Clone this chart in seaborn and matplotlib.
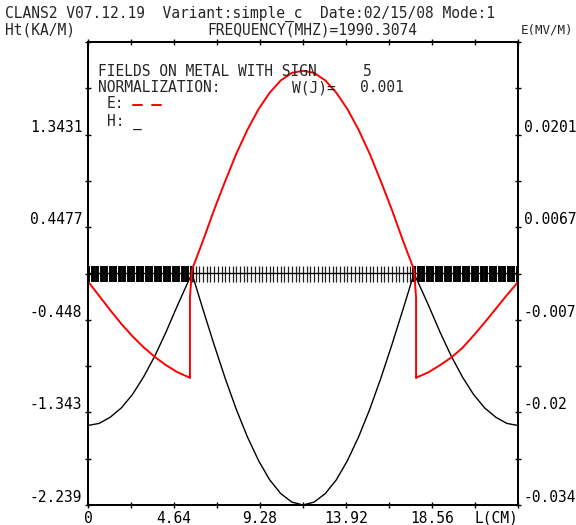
import numpy as np
import pandas as pd
import matplotlib
matplotlib.use("Agg")
import matplotlib.pyplot as plt
from matplotlib.lines import Line2D
import seaborn as sns

# Du lieu doc tu hinh: L(cm), H (KA/M) va E (MV/M)
l_h = [0.0, 0.6, 1.2, 1.8, 2.4, 3.0, 3.6, 4.2, 4.8, 5.2, 5.61,
       6.2, 6.8, 7.4, 8.0, 8.6, 9.2, 9.8, 10.4, 11.0, 11.6,
       12.2, 12.8, 13.4, 14.0, 14.6, 15.2, 15.8, 16.4, 17.0, 17.59,
       18.0, 18.4, 19.0, 19.6, 20.2, 20.8, 21.4, 22.0, 22.6, 23.2]
h_val = [-1.47, -1.45, -1.39, -1.30, -1.17, -1.00, -0.80, -0.57, -0.32, -0.16, 0.0,
         -0.345, -0.687, -1.013, -1.314, -1.580, -1.809, -1.995, -2.129, -2.211, -2.239,
         -2.211, -2.129, -1.995, -1.809, -1.580, -1.314, -1.013, -0.687, -0.345, 0.0,
         -0.16, -0.32, -0.57, -0.80, -1.00, -1.17, -1.30, -1.39, -1.45, -1.47]

l_e = [0.0, 0.6, 1.2, 1.8, 2.4, 3.0, 3.6, 4.2, 4.8, 5.2, 5.48, 5.50, 5.50, 5.61,
       6.2, 6.8, 7.4, 8.0, 8.6, 9.2, 9.8, 10.4, 11.0, 11.6,
       12.2, 12.8, 13.4, 14.0, 14.6, 15.2, 15.8, 16.4, 17.0, 17.59,
       17.70, 17.70, 17.72, 18.0, 18.4, 19.0, 19.6, 20.2, 20.8, 21.4, 22.0, 22.6, 23.2]
e_val = [-0.0014, -0.0035, -0.0056, -0.0076, -0.0094, -0.0110, -0.0124, -0.0136, -0.0146, -0.0151, -0.0154,
         -0.0155, -0.0037, 0.0003,
         0.0045, 0.0090, 0.0132, 0.0172, 0.0207, 0.0237, 0.0261, 0.0279, 0.0290, 0.0293,
         0.0290, 0.0279, 0.0261, 0.0237, 0.0207, 0.0172, 0.0132, 0.0090, 0.0045, 0.0003,
         -0.0037, -0.0155, -0.0154, -0.0151, -0.0146, -0.0136, -0.0125, -0.0111, -0.0093, -0.0074, -0.0054, -0.0034, -0.0015]

# luoi diem tren kim loai
mesh_left = np.linspace(0.0, 5.61, 24)
mesh_mid = np.linspace(5.61, 17.59, 61)
mesh_right = np.linspace(17.59, 23.2, 24)

x_ticks = [0, 2.32, 4.64, 6.96, 9.28, 11.6, 13.92, 16.24, 18.56, 20.88, 23.2]
x_labels = ['0', '', '4.64', '', '9.28', '', '13.92', '', '18.56', '', 'L(CM)']
h_labels = ['-2.239', '', '-1.343', '', '-0.448', '', '0.4477', '', '1.3431', '', '']
e_labels = ['-0.034', '', '-0.02', '', '-0.007', '', '0.0067', '', '0.0201', '', '']

sns.set_theme(style='white')
plt.rcParams['font.family'] = ['DejaVu Sans Mono', 'DejaVu Sans']
fs = 10.5

fig = plt.figure(figsize=(5.76, 5.25), dpi=100)
ax = fig.add_axes([88/576, 1-505/525, 430/576, 463/525])
ax2 = ax.twinx()

df_h = pd.DataFrame({'L': l_h, 'H': h_val})
df_e = pd.DataFrame({'L': l_e, 'E': e_val})

ax.vlines(mesh_left, -0.078, 0.075, color='black', lw=2.8)
ax.vlines(mesh_right, -0.078, 0.075, color='black', lw=2.8)
ax.vlines(mesh_mid, -0.078, 0.075, color='#222222', lw=0.9)
ax.axhline(0, color='black', lw=1.0)

sns.lineplot(data=df_h, x='L', y='H', ax=ax, color='black', lw=1.0,
             sort=False, estimator=None)
sns.lineplot(data=df_e, x='L', y='E', ax=ax2, color='#ff0000', lw=1.4,
             sort=False, estimator=None)

ax.set_xlim(0, 23.2)
ax.set_ylim(-2.239, 2.2385)
ax2.set_ylim(-0.034, 0.0335)

ax.set_xticks(x_ticks)
ax.set_xticklabels(x_labels, fontsize=fs)
ax.get_xticklabels()[-1].set_ha('right')
ax.set_yticks(np.linspace(-2.239, 2.2385, 11))
ax.set_yticklabels(h_labels, fontsize=fs, va='bottom')
ax2.set_yticks(np.linspace(-0.034, 0.0335, 11))
ax2.set_yticklabels(e_labels, fontsize=fs, va='bottom')

ax.set_xlabel('')
ax.set_ylabel('')
ax2.set_ylabel('')
ax.tick_params(axis='both', direction='inout', length=4, width=1, pad=2,
               top=True, bottom=True, left=True, colors='black')
ax2.tick_params(axis='y', direction='inout', length=4, width=1, pad=2, colors='black')
for a in (ax, ax2):
    for s in a.spines.values():
        s.set_color('black')
        s.set_linewidth(1.3)

# tieu de va chu thich
def put(x, y, s, size=fs, **kw):
    fig.text(x/576, 1-y/525, s, fontsize=size, va='center', **kw)

put(5, 14, 'CLANS2 V07.12.19  Variant:simple_c  Date:02/15/08 Mode:1')
put(5, 30, 'Ht(KA/M)')
put(312, 30, 'FREQUENCY(MHZ)=1990.3074', ha='center')
put(521, 30, 'E(MV/M)', size=9)
put(98, 72, 'FIELDS ON METAL WITH SIGN')
put(367, 72, '5', ha='center')
put(98, 88, 'NORMALIZATION:')
put(292, 88, 'W(J)=')
put(360, 88, '0.001')
put(107, 104, 'E:')
put(107, 122, 'H:')
put(133, 122, '_')

# hai gach do cho E
for x0, x1 in [(133, 142), (152, 161)]:
    fig.add_artist(Line2D([x0/576, x1/576], [1-105/525, 1-105/525],
                          color='#ff0000', lw=1.4, transform=fig.transFigure))

fig.savefig('out.png', dpi=100)
